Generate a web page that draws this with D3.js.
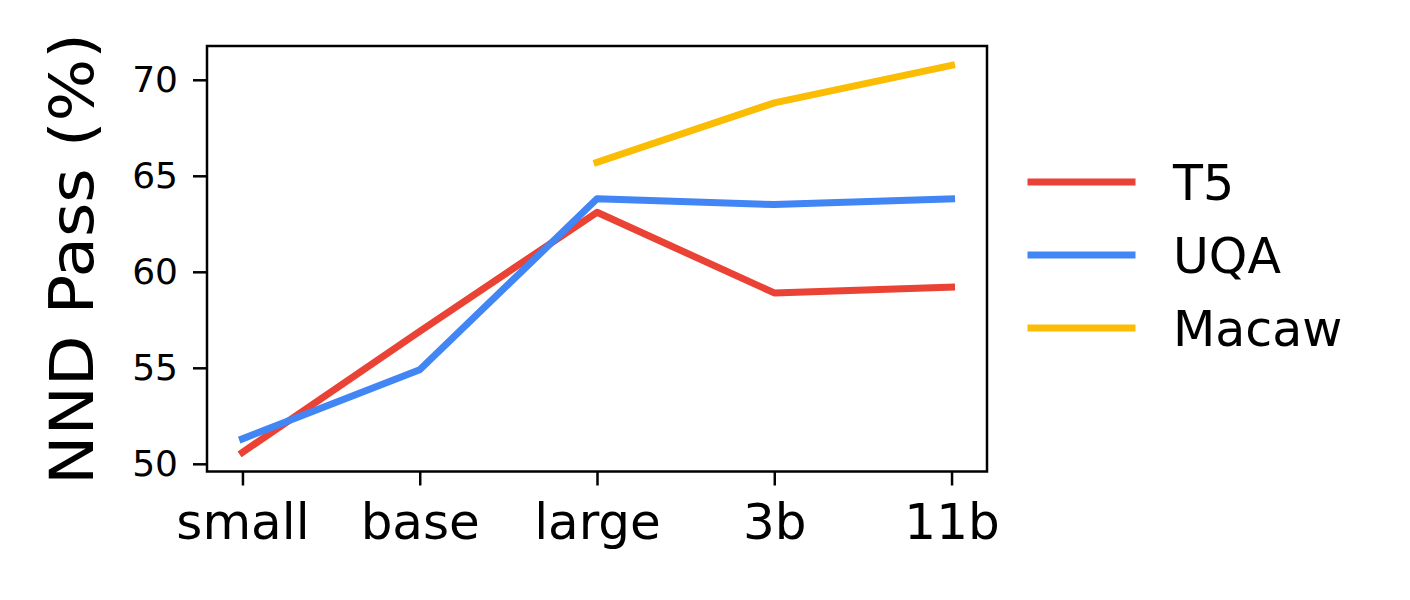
<!DOCTYPE html>
<html>
<head>
<meta charset="utf-8">
<script src="https://cdn.jsdelivr.net/npm/d3@7"></script>
<style>
  html, body { margin: 0; padding: 0; background: #fff; }
  text { font-family: "DejaVu Sans", sans-serif; fill: #000; }
</style>
</head>
<body>
<svg id="chart" width="1410" height="600"></svg>
<script>
// model sizes along the x axis
const sizes = ["small", "base", "large", "3b", "11b"];
const yTicks = [50, 55, 60, 65, 70];

// NND pass rate (%) per model size, null where there is no model
const t5Vals    = [50.6, 56.9, 63.1, 58.9, 59.2];
const uqaVals   = [51.3, 54.9, 63.8, 63.5, 63.8];
const macawVals = [null, null, 65.7, 68.8, 70.75];

const seriesNames = ["T5", "UQA", "Macaw"];
const seriesColors = ["#EA4335", "#4285F4", "#FBBC04"];
const seriesVals = [t5Vals, uqaVals, macawVals];

const svg = d3.select("#chart");
const box = { left: 207, right: 987, top: 46, bottom: 471.5 };
const lw = 7;

// matplotlib-style 5% margins around the data
const x = d3.scaleLinear().domain([-0.2, 4.2]).range([box.left, box.right]);
const y = d3.scaleLinear().domain([49.6, 71.76]).range([box.bottom, box.top]);

// lines
const line = d3.line()
  .defined(d => d.v != null)
  .x(d => x(d.i))
  .y(d => y(d.v));

const plot = svg.append("g");
seriesVals.forEach((vals, k) => {
  plot.append("path")
    .datum(vals.map((v, i) => ({ i, v })))
    .attr("d", line)
    .attr("fill", "none")
    .attr("stroke", seriesColors[k])
    .attr("stroke-width", lw)
    .attr("stroke-linecap", "square")
    .attr("stroke-linejoin", "round");
});

// axes
const xAxis = d3.axisBottom(x)
  .tickValues(d3.range(sizes.length))
  .tickFormat(i => sizes[i])
  .tickSize(14)
  .tickPadding(18)
  .tickSizeOuter(0);
const gx = svg.append("g")
  .attr("transform", `translate(0,${box.bottom})`)
  .call(xAxis);
gx.select(".domain").remove();
gx.selectAll("line").attr("stroke", "#000").attr("stroke-width", 2.5);
gx.selectAll("text").attr("font-size", 50).attr("font-family", "DejaVu Sans").attr("fill", "#000");

const yAxis = d3.axisLeft(y)
  .tickValues(yTicks)
  .tickSize(14)
  .tickPadding(15)
  .tickSizeOuter(0);
const gy = svg.append("g")
  .attr("transform", `translate(${box.left},0)`)
  .call(yAxis);
gy.select(".domain").remove();
gy.selectAll("line").attr("stroke", "#000").attr("stroke-width", 2.5);
gy.selectAll("text").attr("font-size", 36).attr("font-family", "DejaVu Sans").attr("fill", "#000");

// frame
svg.append("rect")
  .attr("x", box.left).attr("y", box.top)
  .attr("width", box.right - box.left).attr("height", box.bottom - box.top)
  .attr("fill", "none").attr("stroke", "#000").attr("stroke-width", 2.5);

// y label
svg.append("text")
  .attr("transform", "translate(93,259) rotate(-90)")
  .attr("text-anchor", "middle")
  .attr("font-size", 60)
  .attr("textLength", 452)
  .attr("lengthAdjust", "spacingAndGlyphs")
  .text("NND Pass (%)");

// legend
const leg = svg.append("g").attr("transform", "translate(1031,182)");
seriesNames.forEach((name, k) => {
  const row = leg.append("g").attr("transform", `translate(0,${k * 73})`);
  row.append("line")
    .attr("x1", 0).attr("x2", 101)
    .attr("stroke", seriesColors[k])
    .attr("stroke-width", lw)
    .attr("stroke-linecap", "square");
  row.append("text")
    .attr("x", 142).attr("y", 18)
    .attr("font-size", 49)
    .text(name);
});
</script>
</body>
</html>
